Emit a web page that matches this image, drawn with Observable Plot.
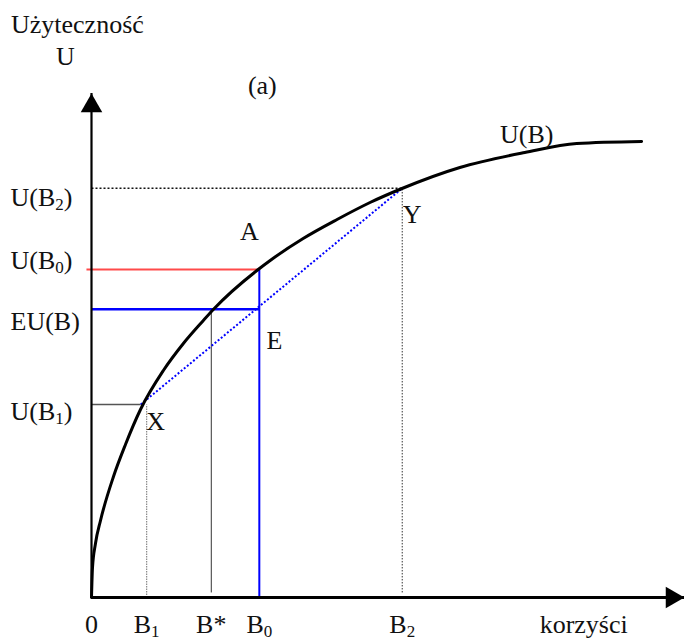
<!DOCTYPE html>
<html>
<head>
<meta charset="utf-8">
<script src="https://cdn.jsdelivr.net/npm/d3@7"></script>
<script src="https://cdn.jsdelivr.net/npm/@observablehq/plot@0.6"></script>
<style>
  html, body { margin: 0; padding: 0; background: white; }
  #head { position: relative; width: 684px; height: 70px; font-family: "Liberation Serif", "Times New Roman", serif; font-size: 26px; color: #111; }
  #head div { position: absolute; line-height: 28px; white-space: nowrap; }
  svg { display: block; }
</style>
</head>
<body>
<div id="head">
  <div style="left:11px; top:11px;">Użyteczność</div>
  <div style="left:56px; top:43px;">U</div>
</div>
<div id="chart"></div>
<script>
// ---- data ----
// utility curve U(B): benefit values and utility values
const curveB = [0, 0.17, 0.67, 1.52, 3.71, 5.73, 8.26, 12.12, 15.49, 18.86, 20.54, 28.11, 30.13, 35.69, 41.41, 46.97, 52.36, 62.12, 73.06, 81.82, 92.76];
const curveU = [0, 5.95, 10.71, 15.28, 24.01, 30.36, 37.30, 45.04, 50.40, 54.96, 57.14, 65.08, 66.87, 71.23, 75.00, 78.37, 81.15, 85.32, 88.29, 90.08, 90.48];

// key benefit levels
const B1 = 9.3, Bstar = 20.2, B0 = 28.3, B2 = 52.4, Xb = 8.3;
// key utility levels
const U1 = 38.3, EU = 57.2, U0 = 65.1, U2 = 81.2;

// tick labels
const xTickValues = [0, B1, Bstar, B0, B2, 83.0];
const xTickLabels = ["0", "B_1", "B*", "B_0", "B_2", "korzyści"];
const yTickValues = [U2, U0, EU, U1];
const yTickLabels = ["U(B_2)", "U(B_0)", "EU(B)", "U(B_1)"];

// point labels
const pointNames = ["A", "E", "X", "Y"];
const pointB = [B0, B0, Xb, B2];
const pointU = [U0, EU, U1, U2];

// ---- layout / style (not data) ----
const yLabelDy = [9, -9, 12, 7];
const pointDx = [-10, 15, 15, 10];
const pointDy = [-38, 31, 17, 26];
const FONT = "Liberation Serif";
const FS = 26;

const curve = curveB.map((b, i) => ({B: b, U: curveU[i]}));

const seg = (opts) => ({x1: "x1", y1: "y1", x2: "x2", y2: "y2", ...opts});

const marks = [
  // dotted level U(B2)
  Plot.link([{x1: 0, y1: U2, x2: B2, y2: U2}], seg({stroke: "#111", strokeWidth: 1.5, strokeDasharray: "2,2"})),
  // dotted vertical B2
  Plot.link([{x1: B2, y1: 1, x2: B2, y2: U2}], seg({stroke: "#333", strokeWidth: 1, strokeDasharray: "1.5,1.5"})),
  // dotted vertical B1
  Plot.link([{x1: B1, y1: 0, x2: B1, y2: U1}], seg({stroke: "#888", strokeWidth: 1.2, strokeDasharray: "1.5,1"})),
  // U(B1) level
  Plot.link([{x1: 0, y1: U1, x2: Xb, y2: U1}], seg({stroke: "#555", strokeWidth: 1.4})),
  // B* vertical
  Plot.link([{x1: Bstar, y1: 1, x2: Bstar, y2: EU}], seg({stroke: "#333", strokeWidth: 1})),
  // red U(B0) level
  Plot.link([{x1: -0.85, y1: U0, x2: B0, y2: U0}], seg({stroke: "#ff4a4a", strokeWidth: 2})),
  // blue EU level
  Plot.link([{x1: 0, y1: EU, x2: B0, y2: EU}], seg({stroke: "#0000ff", strokeWidth: 2.6})),
  // blue vertical B0
  Plot.link([{x1: B0, y1: 0, x2: B0, y2: U0}], seg({stroke: "#0000ff", strokeWidth: 2})),
  // blue dotted chord X–Y
  Plot.link([{x1: Xb, y1: U1, x2: B2, y2: U2}], seg({stroke: "#0000ff", strokeWidth: 2, strokeDasharray: "2,2"})),
  // utility curve
  Plot.line(curve, {x: "B", y: "U", curve: "monotone-x", stroke: "black", strokeWidth: 3}),
  // axes
  Plot.ruleY([0], {x1: 0, x2: 100, stroke: "black", strokeWidth: 3}),
  Plot.ruleX([0], {y1: 0, y2: 100, stroke: "black", strokeWidth: 2.2}),
  Plot.dot([{x: 0, y: 100}], {x: "x", y: "y", symbol: "triangle", r: 8, fill: "black", stroke: "none", dy: 12.5}),
  Plot.dot([{x: 100, y: 0}], {x: "x", y: "y", symbol: "triangle", r: 8, rotate: 90, fill: "black", stroke: "none", dx: -12.5}),
  // x tick labels
  Plot.text(xTickValues.map((v, i) => ({v, t: xTickLabels[i]})), {x: "v", text: "t", frameAnchor: "bottom", lineAnchor: "middle", dy: 27, fontFamily: FONT, fontSize: FS, fill: "#111"}),
  // curve label
  Plot.text([curve[18]], {x: "B", y: "U", text: () => "U(B)", dx: 2, dy: -18, fontFamily: FONT, fontSize: FS, fill: "#111"}),
  // panel label
  Plot.text([B0], {x: d => d, text: () => "(a)", frameAnchor: "top", lineAnchor: "middle", dx: 3, dy: -8, fontFamily: FONT, fontSize: FS, fill: "#111"})
];

// y tick labels (left aligned at the page edge)
yTickValues.forEach((v, i) => {
  marks.push(Plot.text([{v, t: yTickLabels[i]}], {y: "v", text: "t", frameAnchor: "left", textAnchor: "start", dx: -81, dy: yLabelDy[i], fontFamily: FONT, fontSize: FS, fill: "#111"}));
});
// point labels
pointNames.forEach((n, i) => {
  marks.push(Plot.text([{b: pointB[i], u: pointU[i], t: n}], {x: "b", y: "u", text: "t", dx: pointDx[i], dy: pointDy[i], fontFamily: FONT, fontSize: FS, fill: "#111"}));
});

const svg = Plot.plot({
  width: 684,
  height: 571,
  marginLeft: 91,
  marginRight: 0,
  marginTop: 23,
  marginBottom: 44,
  x: {domain: [0, 100], axis: null},
  y: {domain: [0, 100], axis: null},
  style: {fontFamily: FONT, background: "white", overflow: "visible"},
  marks
});

// render "_d" as a subscript
const NS = "http://www.w3.org/2000/svg";
svg.querySelectorAll("text").forEach(t => {
  const targets = t.querySelectorAll("tspan").length ? [...t.querySelectorAll("tspan")] : [t];
  targets.forEach(n => {
    const s = n.textContent;
    const m = s.match(/^(.*?)_(\d)(.*)$/);
    if (!m) return;
    n.textContent = "";
    const a = document.createElementNS(NS, "tspan"); a.textContent = m[1];
    const b = document.createElementNS(NS, "tspan"); b.textContent = m[2];
    b.setAttribute("font-size", "17"); b.setAttribute("dy", "4");
    n.append(a, b);
    if (m[3]) {
      const c = document.createElementNS(NS, "tspan"); c.textContent = m[3];
      c.setAttribute("dy", "-4");
      n.append(c);
    }
  });
});

document.getElementById("chart").append(svg);
</script>
</body>
</html>
